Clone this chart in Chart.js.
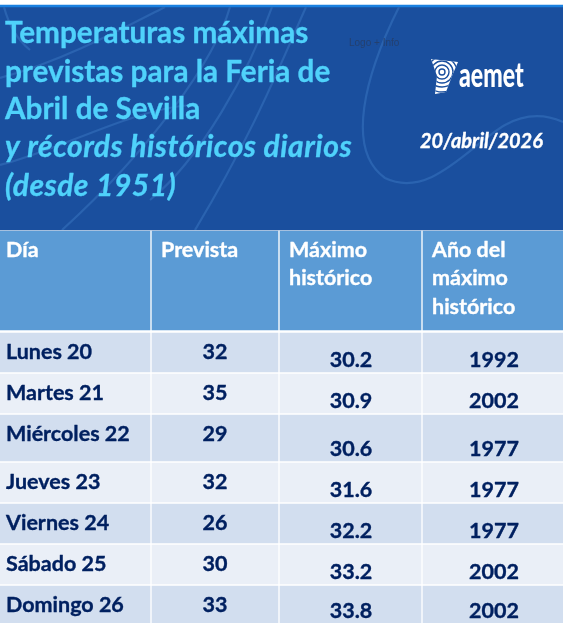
<!DOCTYPE html>
<html lang="es"><head><meta charset="utf-8">
<style>html,body{margin:0;padding:0;background:#fff}canvas{display:block}</style>
<script src="https://cdn.jsdelivr.net/npm/chart.js@4/dist/chart.umd.min.js"></script>
</head><body>
<canvas id="c" width="563" height="623"></canvas>
<script>
// ---- data ----
const dias = ["Lunes 20","Martes 21","Miércoles 22","Jueves 23","Viernes 24","Sábado 25","Domingo 26"];
const prevista = [32,35,29,32,26,30,33];
const maximo = [30.2,30.9,30.6,31.6,32.2,33.2,33.8];
const anio = [1992,2002,1977,1977,1977,2002,2002];
const encabezados = [["Día"],["Prevista"],["Máximo","histórico"],["Año del","máximo","histórico"]];
const titulo = ["Temperaturas máximas","previstas para la Feria de","Abril de Sevilla"];
const tituloCursiva = ["y récords históricos diarios","(desde 1951)"];
const fecha = "20/abril/2026";

// ---- layout ----
const colEdges = [[0,150],[152,278],[280,421],[423,563]];
const headBand = [231,330];
const rowBands = [[333,372],[374,413],[415,461],[463,502],[504,543],[545,584],[586,623]];
const FONT = 'Lato, Carlito, sans-serif';
const NAVY = '#002060';

const band = (top,bot,color,label,cols)=>({
  label, data: cols.map(c=>({x:c,y:(top+bot)/2})),
  backgroundColor: color, barThickness: bot-top, grouped:false, borderWidth:0, borderSkipped:false
});
const fullWidth=[[0,563]];
const datasets=[
  band(5,7,'#1a80e0','Línea',fullWidth),
  band(7,230,'#1a4f9e','Cabecera',fullWidth),
  band(headBand[0],headBand[1],'#5b9bd5','Encabezado',colEdges),
  ...rowBands.map((r,i)=>band(r[0],r[1],i%2?'#eaeff7':'#d2deef',dias[i],colEdges))
];

function curves(ctx){
  ctx.save();
  ctx.beginPath();ctx.rect(0,7,563,223);ctx.clip();
  ctx.strokeStyle='#2a63b0';ctx.lineWidth=2.2;
  const s=(f)=>{ctx.beginPath();f();ctx.stroke();};
  s(()=>{ctx.moveTo(399,7);ctx.bezierCurveTo(365,75,345,150,385,178);ctx.bezierCurveTo(430,200,470,145,505,125);ctx.bezierCurveTo(525,114,545,114,563,122);});
  s(()=>{ctx.moveTo(306,7);ctx.bezierCurveTo(280,65,255,130,195,230);});
  s(()=>{ctx.moveTo(272,7);ctx.bezierCurveTo(250,70,200,160,150,200);});
  s(()=>{ctx.moveTo(230,7);ctx.bezierCurveTo(215,60,150,150,62,230);});
  s(()=>{ctx.moveTo(165,7);ctx.bezierCurveTo(120,30,60,62,0,78);});
  s(()=>{ctx.moveTo(0,165);ctx.bezierCurveTo(60,150,130,110,190,105);});
  s(()=>{ctx.moveTo(4,7);ctx.bezierCurveTo(8,22,15,38,30,50);});
  ctx.restore();
}
function logo(ctx){
  ctx.save();
  ctx.beginPath();
  ctx.moveTo(431,59);ctx.lineTo(458,62);ctx.lineTo(452,76);ctx.lineTo(446,92);ctx.lineTo(435,94);ctx.lineTo(437,76);ctx.closePath();
  ctx.fillStyle='#ffffff';ctx.fill();ctx.clip();
  ctx.strokeStyle='#1a4f9e';ctx.lineWidth=1.4;
  [3,7,11,15,20].forEach(r=>{ctx.beginPath();ctx.arc(442,72,r,0,Math.PI*2);ctx.stroke();});
  ctx.restore();
  ctx.save();
  ctx.fillStyle='#fff';
  ctx.font='900 33px '+FONT;
  ctx.textAlign='left';ctx.textBaseline='alphabetic';
  ctx.translate(459,87);ctx.scale(0.7,1.05);
  ctx.fillText('aemet',0,0);
  ctx.restore();
}
const tablaTexto={
  id:'tablaTexto',
  afterDatasetsDraw(chart){
    const {ctx,scales:{x,y}}=chart;
    curves(ctx);
    ctx.save();
    ctx.textBaseline='alphabetic';
    ctx.lineJoin='round';
    const put=(t,px,py)=>{ctx.lineWidth=0.35;ctx.strokeStyle=ctx.fillStyle;ctx.strokeText(t,px,py);ctx.fillText(t,px,py);};
    ctx.fillStyle='#24406f';ctx.font='10px "Liberation Sans Narrow","Liberation Sans",sans-serif';
    ctx.textAlign='left';
    ctx.fillText('Logo + Info',x.getPixelForValue(349),y.getPixelForValue(46));
    ctx.fillStyle='#4fd2fb';
    ctx.font='700 29.7px '+FONT;
    const tb=[43,82,119];
    titulo.forEach((t,i)=>put(t,x.getPixelForValue(5),y.getPixelForValue(tb[i])));
    ctx.font='italic 700 30px '+FONT;
    ctx.letterSpacing='0.5px';
    const ib=[157,196];
    tituloCursiva.forEach((t,i)=>put(t,x.getPixelForValue(5),y.getPixelForValue(ib[i])));
    ctx.letterSpacing='0px';
    ctx.fillStyle='#fff';
    ctx.font='italic 700 20px '+FONT;
    put(fecha,x.getPixelForValue(420),y.getPixelForValue(148));
    ctx.font='700 21.5px '+FONT;
    const hx=[6,161,289,432], hb=[257,285,314];
    encabezados.forEach((ls,c)=>ls.forEach((l,j)=>put(l,x.getPixelForValue(hx[c]),y.getPixelForValue(hb[j]))));
    ctx.fillStyle=NAVY;
    rowBands.forEach((r,i)=>{
      const topB=y.getPixelForValue(r[0]+26), botB=y.getPixelForValue(r[1]-5.5);
      ctx.textAlign='left';
      put(dias[i],x.getPixelForValue(6),topB);
      ctx.textAlign='center';
      put(String(prevista[i]),x.getPixelForValue(215),topB);
      put(maximo[i].toFixed(1),x.getPixelForValue(351),botB);
      put(String(anio[i]),x.getPixelForValue(494),botB);
    });
    ctx.restore();
    logo(ctx);
  }
};
new Chart(document.getElementById('c'),{
  type:'bar',
  data:{datasets},
  plugins:[tablaTexto],
  options:{
    indexAxis:'y',responsive:false,animation:false,devicePixelRatio:1,
    layout:{padding:0},
    plugins:{legend:{display:false},title:{display:false},tooltip:{enabled:false}},
    scales:{
      x:{type:'linear',min:0,max:563,display:false},
      y:{type:'linear',min:0,max:623,reverse:true,display:false,offset:false,grid:{offset:false}}
    }
  }
});
</script>
</body></html>
